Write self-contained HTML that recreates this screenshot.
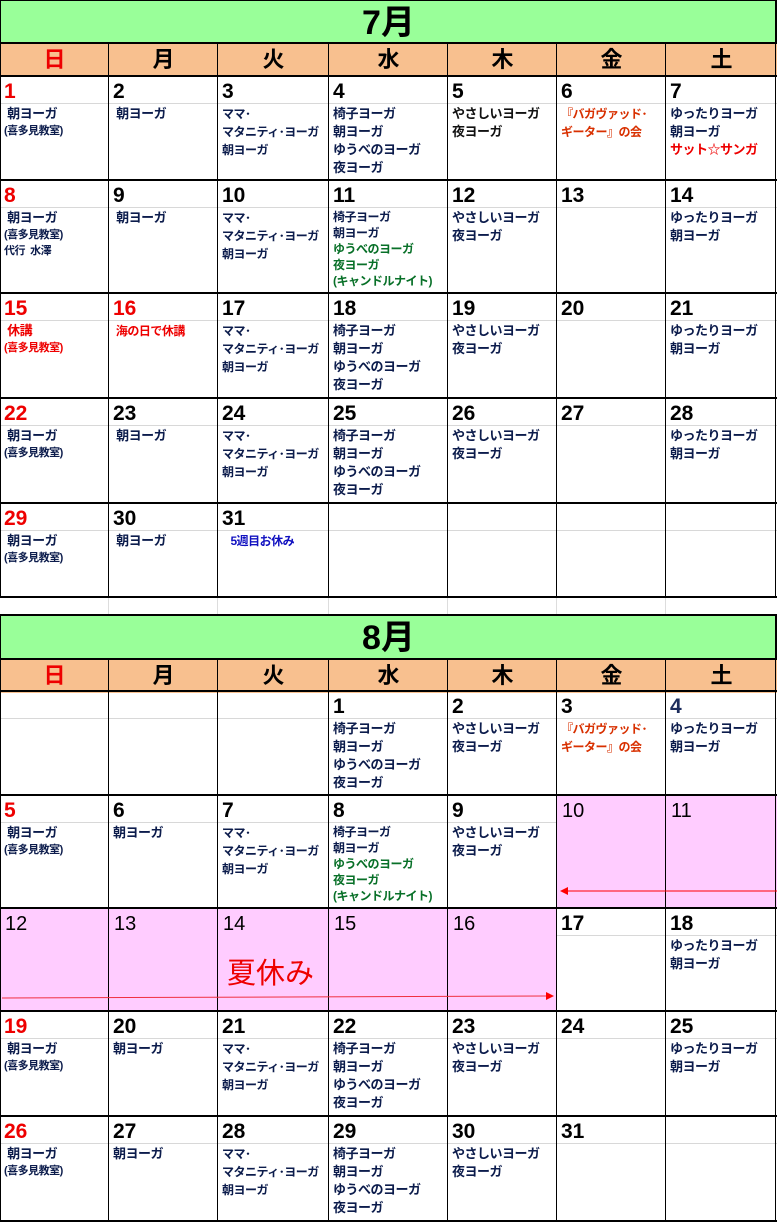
<!DOCTYPE html>
<html><head><meta charset="utf-8">
<style>
*{margin:0;padding:0;box-sizing:border-box}
body{width:777px;height:1223px;background:#fff;position:relative;overflow:hidden;font-family:"Liberation Sans","Noto Sans CJK JP",sans-serif}
.a{position:absolute}
.title{position:absolute;left:0;width:777px;background:#99ff99;text-align:center;font-size:34px;font-weight:bold;color:#000;border:1px solid #000}
.hdr{position:absolute;background:#f8c08f;text-align:center;font-size:22px;font-weight:bold;line-height:34px;color:#000}
.c{position:absolute;overflow:hidden}
.d{height:27px;border-bottom:1px solid #d8d8d8;font-size:21px;font-weight:bold;line-height:29px;padding-left:4px;color:#000}
.t{font-size:13px;font-weight:bold;line-height:18px;color:#0c1c4c;padding-left:4px;padding-top:1px;white-space:nowrap;letter-spacing:-0.5px}
.s{font-size:11px;line-height:16px}
.r{color:#e00}
.g{color:#087028}
.hl{position:absolute;left:0;width:777px;height:2px;background:#000}
.vl{position:absolute;width:1px;background:#000}
.pk{position:absolute;background:#ffccff}
.pd{font-size:20px;line-height:30px;padding-left:5px;color:#000;font-weight:normal}
</style></head><body>

<div class="title" style="top:0;height:44px;line-height:44px">7月</div>
<div class="hdr" style="left:0;top:43px;width:777px;height:33px"></div>
<div class="hdr r" style="left:0;top:43px;width:109px">日</div>
<div class="hdr" style="left:109px;top:43px;width:109px">月</div>
<div class="hdr" style="left:218px;top:43px;width:111px">火</div>
<div class="hdr" style="left:329px;top:43px;width:119px">水</div>
<div class="hdr" style="left:448px;top:43px;width:109px">木</div>
<div class="hdr" style="left:557px;top:43px;width:109px">金</div>
<div class="hdr" style="left:666px;top:43px;width:111px">土</div>

<div class="a" style="left:0;top:597px;width:777px;height:18px;background:#fff"></div>

<div class="title" style="top:615px;height:45px;line-height:45px">8月</div>
<div class="hdr" style="left:0;top:659px;width:777px;height:32px"></div>
<div class="hdr r" style="left:0;top:659px;width:109px">日</div>
<div class="hdr" style="left:109px;top:659px;width:109px">月</div>
<div class="hdr" style="left:218px;top:659px;width:111px">火</div>
<div class="hdr" style="left:329px;top:659px;width:119px">水</div>
<div class="hdr" style="left:448px;top:659px;width:109px">木</div>
<div class="hdr" style="left:557px;top:659px;width:109px">金</div>
<div class="hdr" style="left:666px;top:659px;width:111px">土</div>

<div class="pk" style="left:557px;top:796px;width:220px;height:112px"></div>
<div class="pk" style="left:0;top:909px;width:557px;height:102px"></div>

<div class="c" style="left:0;top:77px;width:109px;height:103px"><div class="d r">1</div><div class="t">&nbsp;朝ヨーガ<div class="s">(喜多見教室)</div></div></div>
<div class="c" style="left:109px;top:77px;width:109px;height:103px"><div class="d">2</div><div class="t">&nbsp;朝ヨーガ</div></div>
<div class="c" style="left:218px;top:77px;width:111px;height:103px"><div class="d">3</div><div class="t" style="font-size:12px">ママ･<br>マタニティ･ヨーガ<br>朝ヨーガ</div></div>
<div class="c" style="left:329px;top:77px;width:119px;height:103px"><div class="d">4</div><div class="t">椅子ヨーガ<br>朝ヨーガ<br>ゆうべのヨーガ<br>夜ヨーガ</div></div>
<div class="c" style="left:448px;top:77px;width:109px;height:103px"><div class="d">5</div><div class="t" style="color:#111">やさしいヨーガ<br>夜ヨーガ</div></div>
<div class="c" style="left:557px;top:77px;width:109px;height:103px"><div class="d">6</div><div class="t" style="color:#d83000;font-size:12px">『バガヴァッド･<br>ギーター』の会</div></div>
<div class="c" style="left:666px;top:77px;width:111px;height:103px"><div class="d">7</div><div class="t">ゆったりヨーガ<br>朝ヨーガ<br><span class="r">サット☆サンガ</span></div></div>

<div class="c" style="left:0;top:181px;width:109px;height:112px"><div class="d r">8</div><div class="t">&nbsp;朝ヨーガ<div class="s">(喜多見教室)<br>代行&nbsp; 水澤</div></div></div>
<div class="c" style="left:109px;top:181px;width:109px;height:112px"><div class="d">9</div><div class="t">&nbsp;朝ヨーガ</div></div>
<div class="c" style="left:218px;top:181px;width:111px;height:112px"><div class="d">10</div><div class="t" style="font-size:12px">ママ･<br>マタニティ･ヨーガ<br>朝ヨーガ</div></div>
<div class="c" style="left:329px;top:181px;width:119px;height:112px"><div class="d">11</div><div class="t" style="font-size:12px;line-height:16px">椅子ヨーガ<br>朝ヨーガ<br><span class="g">ゆうべのヨーガ<br>夜ヨーガ<br>(キャンドルナイト)</span></div></div>
<div class="c" style="left:448px;top:181px;width:109px;height:112px"><div class="d">12</div><div class="t">やさしいヨーガ<br>夜ヨーガ</div></div>
<div class="c" style="left:557px;top:181px;width:109px;height:112px"><div class="d">13</div></div>
<div class="c" style="left:666px;top:181px;width:111px;height:112px"><div class="d">14</div><div class="t">ゆったりヨーガ<br>朝ヨーガ</div></div>

<div class="c" style="left:0;top:294px;width:109px;height:104px"><div class="d r">15</div><div class="t r">&nbsp;休講<div class="s">(喜多見教室)</div></div></div>
<div class="c" style="left:109px;top:294px;width:109px;height:104px"><div class="d r">16</div><div class="t r" style="font-size:12px">&nbsp;海の日で休講</div></div>
<div class="c" style="left:218px;top:294px;width:111px;height:104px"><div class="d">17</div><div class="t" style="font-size:12px">ママ･<br>マタニティ･ヨーガ<br>朝ヨーガ</div></div>
<div class="c" style="left:329px;top:294px;width:119px;height:104px"><div class="d">18</div><div class="t">椅子ヨーガ<br>朝ヨーガ<br>ゆうべのヨーガ<br>夜ヨーガ</div></div>
<div class="c" style="left:448px;top:294px;width:109px;height:104px"><div class="d">19</div><div class="t">やさしいヨーガ<br>夜ヨーガ</div></div>
<div class="c" style="left:557px;top:294px;width:109px;height:104px"><div class="d">20</div></div>
<div class="c" style="left:666px;top:294px;width:111px;height:104px"><div class="d">21</div><div class="t">ゆったりヨーガ<br>朝ヨーガ</div></div>

<div class="c" style="left:0;top:399px;width:109px;height:104px"><div class="d r">22</div><div class="t">&nbsp;朝ヨーガ<div class="s">(喜多見教室)</div></div></div>
<div class="c" style="left:109px;top:399px;width:109px;height:104px"><div class="d">23</div><div class="t">&nbsp;朝ヨーガ</div></div>
<div class="c" style="left:218px;top:399px;width:111px;height:104px"><div class="d">24</div><div class="t" style="font-size:12px">ママ･<br>マタニティ･ヨーガ<br>朝ヨーガ</div></div>
<div class="c" style="left:329px;top:399px;width:119px;height:104px"><div class="d">25</div><div class="t">椅子ヨーガ<br>朝ヨーガ<br>ゆうべのヨーガ<br>夜ヨーガ</div></div>
<div class="c" style="left:448px;top:399px;width:109px;height:104px"><div class="d">26</div><div class="t">やさしいヨーガ<br>夜ヨーガ</div></div>
<div class="c" style="left:557px;top:399px;width:109px;height:104px"><div class="d">27</div></div>
<div class="c" style="left:666px;top:399px;width:111px;height:104px"><div class="d">28</div><div class="t">ゆったりヨーガ<br>朝ヨーガ</div></div>

<div class="c" style="left:0;top:504px;width:109px;height:93px"><div class="d r">29</div><div class="t">&nbsp;朝ヨーガ<div class="s">(喜多見教室)</div></div></div>
<div class="c" style="left:109px;top:504px;width:109px;height:93px"><div class="d">30</div><div class="t">&nbsp;朝ヨーガ</div></div>
<div class="c" style="left:218px;top:504px;width:111px;height:93px"><div class="d">31</div><div class="t" style="color:#1010c0;font-size:12px">&nbsp;&nbsp;&nbsp;5週目お休み</div></div>
<div class="c" style="left:329px;top:504px;width:119px;height:93px"><div class="d"></div></div>
<div class="c" style="left:448px;top:504px;width:109px;height:93px"><div class="d"></div></div>
<div class="c" style="left:557px;top:504px;width:109px;height:93px"><div class="d"></div></div>
<div class="c" style="left:666px;top:504px;width:111px;height:93px"><div class="d"></div></div>

<div class="c" style="left:0;top:692px;width:109px;height:103px"><div class="d"></div></div>
<div class="c" style="left:109px;top:692px;width:109px;height:103px"><div class="d"></div></div>
<div class="c" style="left:218px;top:692px;width:111px;height:103px"><div class="d"></div></div>
<div class="c" style="left:329px;top:692px;width:119px;height:103px"><div class="d">1</div><div class="t">椅子ヨーガ<br>朝ヨーガ<br>ゆうべのヨーガ<br>夜ヨーガ</div></div>
<div class="c" style="left:448px;top:692px;width:109px;height:103px"><div class="d">2</div><div class="t">やさしいヨーガ<br>夜ヨーガ</div></div>
<div class="c" style="left:557px;top:692px;width:109px;height:103px"><div class="d">3</div><div class="t" style="color:#d83000;font-size:12px">『バガヴァッド･<br>ギーター』の会</div></div>
<div class="c" style="left:666px;top:692px;width:111px;height:103px"><div class="d" style="color:#1c2c5c">4</div><div class="t">ゆったりヨーガ<br>朝ヨーガ</div></div>

<div class="c" style="left:0;top:796px;width:109px;height:112px"><div class="d r">5</div><div class="t">&nbsp;朝ヨーガ<div class="s">(喜多見教室)</div></div></div>
<div class="c" style="left:109px;top:796px;width:109px;height:112px"><div class="d">6</div><div class="t">朝ヨーガ</div></div>
<div class="c" style="left:218px;top:796px;width:111px;height:112px"><div class="d">7</div><div class="t" style="font-size:12px">ママ･<br>マタニティ･ヨーガ<br>朝ヨーガ</div></div>
<div class="c" style="left:329px;top:796px;width:119px;height:112px"><div class="d">8</div><div class="t" style="font-size:12px;line-height:16px">椅子ヨーガ<br>朝ヨーガ<br><span class="g">ゆうべのヨーガ<br>夜ヨーガ<br>(キャンドルナイト)</span></div></div>
<div class="c" style="left:448px;top:796px;width:109px;height:112px"><div class="d">9</div><div class="t">やさしいヨーガ<br>夜ヨーガ</div></div>
<div class="c pd" style="left:557px;top:796px;width:109px;height:112px">10</div>
<div class="c pd" style="left:666px;top:796px;width:111px;height:112px">11</div>

<div class="c pd r" style="left:0;top:909px;width:109px;height:102px">12</div>
<div class="c pd" style="left:109px;top:909px;width:109px;height:102px">13</div>
<div class="c pd" style="left:218px;top:909px;width:111px;height:102px">14</div>
<div class="c pd" style="left:329px;top:909px;width:119px;height:102px">15</div>
<div class="c pd" style="left:448px;top:909px;width:109px;height:102px">16</div>
<div class="c" style="left:557px;top:909px;width:109px;height:102px"><div class="d">17</div></div>
<div class="c" style="left:666px;top:909px;width:111px;height:102px"><div class="d">18</div><div class="t">ゆったりヨーガ<br>朝ヨーガ</div></div>
<div class="a r" style="left:227px;top:956px;font-size:29px;line-height:36px">夏休み</div>

<div class="c" style="left:0;top:1012px;width:109px;height:104px"><div class="d r">19</div><div class="t">&nbsp;朝ヨーガ<div class="s">(喜多見教室)</div></div></div>
<div class="c" style="left:109px;top:1012px;width:109px;height:104px"><div class="d">20</div><div class="t">朝ヨーガ</div></div>
<div class="c" style="left:218px;top:1012px;width:111px;height:104px"><div class="d">21</div><div class="t" style="font-size:12px">ママ･<br>マタニティ･ヨーガ<br>朝ヨーガ</div></div>
<div class="c" style="left:329px;top:1012px;width:119px;height:104px"><div class="d">22</div><div class="t">椅子ヨーガ<br>朝ヨーガ<br>ゆうべのヨーガ<br>夜ヨーガ</div></div>
<div class="c" style="left:448px;top:1012px;width:109px;height:104px"><div class="d">23</div><div class="t">やさしいヨーガ<br>夜ヨーガ</div></div>
<div class="c" style="left:557px;top:1012px;width:109px;height:104px"><div class="d">24</div></div>
<div class="c" style="left:666px;top:1012px;width:111px;height:104px"><div class="d">25</div><div class="t">ゆったりヨーガ<br>朝ヨーガ</div></div>

<div class="c" style="left:0;top:1117px;width:109px;height:104px"><div class="d r">26</div><div class="t">&nbsp;朝ヨーガ<div class="s">(喜多見教室)</div></div></div>
<div class="c" style="left:109px;top:1117px;width:109px;height:104px"><div class="d">27</div><div class="t">朝ヨーガ</div></div>
<div class="c" style="left:218px;top:1117px;width:111px;height:104px"><div class="d">28</div><div class="t" style="font-size:12px">ママ･<br>マタニティ･ヨーガ<br>朝ヨーガ</div></div>
<div class="c" style="left:329px;top:1117px;width:119px;height:104px"><div class="d">29</div><div class="t">椅子ヨーガ<br>朝ヨーガ<br>ゆうべのヨーガ<br>夜ヨーガ</div></div>
<div class="c" style="left:448px;top:1117px;width:109px;height:104px"><div class="d">30</div><div class="t">やさしいヨーガ<br>夜ヨーガ</div></div>
<div class="c" style="left:557px;top:1117px;width:109px;height:104px"><div class="d">31</div></div>
<div class="c" style="left:666px;top:1117px;width:111px;height:104px"><div class="d"></div></div>

<div class="a" style="left:0;top:597px;width:777px;height:18px;border-bottom:1px solid #ddd;background:linear-gradient(90deg,transparent 108px,#ddd 108px,#ddd 109px,transparent 109px,transparent 217px,#ddd 217px,#ddd 218px,transparent 218px,transparent 328px,#ddd 328px,#ddd 329px,transparent 329px,transparent 447px,#ddd 447px,#ddd 448px,transparent 448px,transparent 556px,#ddd 556px,#ddd 557px,transparent 557px,transparent 665px,#ddd 665px,#ddd 666px,transparent 666px)"></div>

<div class="hl" style="top:42px"></div>
<div class="hl" style="top:75px"></div>
<div class="hl" style="top:179px"></div>
<div class="hl" style="top:292px"></div>
<div class="hl" style="top:397px"></div>
<div class="hl" style="top:502px"></div>
<div class="hl" style="top:596px"></div>
<div class="vl" style="left:0;top:43px;height:554px"></div>
<div class="vl" style="left:108px;top:43px;height:554px"></div>
<div class="vl" style="left:217px;top:43px;height:554px"></div>
<div class="vl" style="left:328px;top:43px;height:554px"></div>
<div class="vl" style="left:447px;top:43px;height:554px"></div>
<div class="vl" style="left:556px;top:43px;height:554px"></div>
<div class="vl" style="left:665px;top:43px;height:554px"></div>
<div class="vl" style="left:775px;top:0;height:597px"></div>

<div class="hl" style="top:614px"></div>
<div class="hl" style="top:658px"></div>
<div class="hl" style="top:690px"></div>
<div class="hl" style="top:794px"></div>
<div class="hl" style="top:907px"></div>
<div class="hl" style="top:1010px"></div>
<div class="hl" style="top:1115px"></div>
<div class="hl" style="top:1220px"></div>
<div class="vl" style="left:0;top:659px;height:563px"></div>
<div class="vl" style="left:108px;top:659px;height:563px"></div>
<div class="vl" style="left:217px;top:659px;height:563px"></div>
<div class="vl" style="left:328px;top:659px;height:563px"></div>
<div class="vl" style="left:447px;top:659px;height:563px"></div>
<div class="vl" style="left:556px;top:659px;height:563px"></div>
<div class="vl" style="left:665px;top:659px;height:563px"></div>
<div class="vl" style="left:775px;top:615px;height:607px"></div>

<svg class="a" style="left:0;top:0" width="777" height="1223">
<line x1="566" y1="891" x2="777" y2="891" stroke="#f00" stroke-width="1"/>
<polygon points="560,891 568,887 568,895" fill="#f00"/>
<line x1="2" y1="998" x2="546" y2="996" stroke="#f03040" stroke-width="1"/>
<polygon points="554,996 546,992 546,1000" fill="#f00"/>
</svg>
</body></html>
